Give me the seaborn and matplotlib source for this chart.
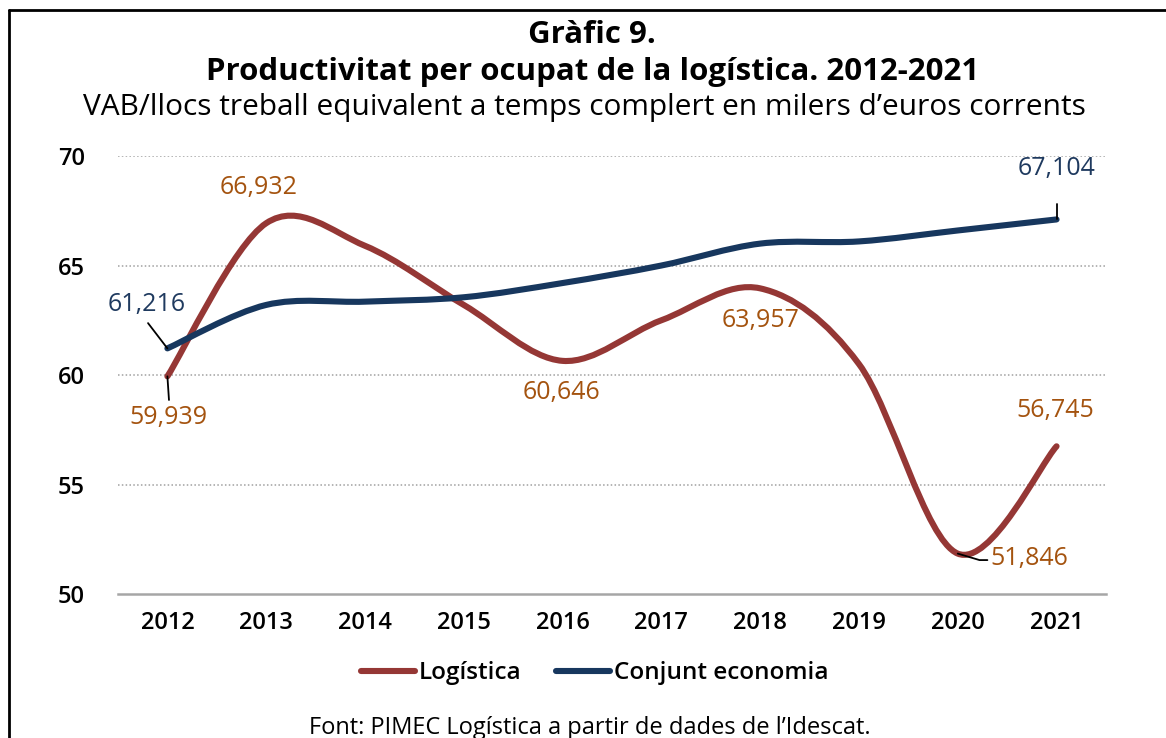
import numpy as np
import pandas as pd
import matplotlib
matplotlib.use("Agg")
import matplotlib.pyplot as plt
import seaborn as sns
from matplotlib.path import Path
from matplotlib.patches import PathPatch
from matplotlib.lines import Line2D

years = ["2012", "2013", "2014", "2015", "2016", "2017", "2018", "2019", "2020", "2021"]
logistica = [59.939, 66.932, 65.9, 63.2, 60.646, 62.5, 63.957, 60.5, 51.846, 56.745]
conjunt = [61.216, 63.2, 63.35, 63.55, 64.2, 65.0, 66.0, 66.1, 66.6, 67.104]
series_names = ["Logística", "Conjunt economia"]
line_colors = ["#953735", "#17375E"]
label_colors = ["#A4530F", "#1F3A5F"]

df = pd.DataFrame({
    "pos": list(range(len(years))) * 2,
    "value": logistica + conjunt,
    "serie": [series_names[0]] * len(years) + [series_names[1]] * len(years),
})

sns.set_style("white")
plt.rcParams["font.family"] = ["Open Sans", "DejaVu Sans"]
plt.rcParams["text.color"] = "black"
plt.rcParams["xtick.color"] = "black"
plt.rcParams["ytick.color"] = "black"

fig = plt.figure(figsize=(11.66, 7.38), dpi=100)
ax = fig.add_axes([0.1012, 0.1951, 0.8473, 0.5935])

sns.lineplot(data=df, x="pos", y="value", hue="serie", palette=line_colors,
             ax=ax, legend=False)


def smooth_path(xs, ys):
    # Excel-like smoothed line: Catmull-Rom segments as cubic Bezier curves
    pts = np.column_stack([xs, ys])
    verts = [pts[0]]
    codes = [Path.MOVETO]
    n = len(pts)
    for i in range(n - 1):
        p0 = pts[max(i - 1, 0)]
        p1 = pts[i]
        p2 = pts[i + 1]
        p3 = pts[min(i + 2, n - 1)]
        c1 = p1 + (p2 - p0) / 6.0
        c2 = p2 - (p3 - p1) / 6.0
        verts += [c1, c2, p2]
        codes += [Path.CURVE4] * 3
    return Path(verts, codes)


# replace the straight seaborn lines with smoothed curves of the same data
for line, color in zip(ax.get_lines(), line_colors):
    xs, ys = line.get_xdata(), line.get_ydata()
    line.set_visible(False)
    ax.add_patch(PathPatch(smooth_path(np.asarray(xs, float), np.asarray(ys, float)),
                           fill=False, edgecolor=color, lw=4.4,
                           capstyle="round", joinstyle="round", zorder=3))

ax.set_xlim(-0.5, len(years) - 0.5)
ax.set_ylim(50, 70)
ax.set_yticks([50, 55, 60, 65, 70])
ax.set_yticklabels(["50", "55", "60", "65", "70"])
ax.set_xticks(range(len(years)))
ax.set_xticklabels(years)
ax.set_xticks(np.arange(-0.5, len(years)), minor=True)
ax.tick_params(axis="x", which="major", length=0, pad=12, labelsize=17,
               labelcolor="black")
ax.tick_params(axis="x", which="minor", length=7, width=1.5, color="#A6A6A6",
               direction="out")
ax.tick_params(axis="y", length=0, pad=24, labelsize=17, labelcolor="black")
for lab in ax.get_xticklabels() + ax.get_yticklabels():
    lab.set_fontweight("semibold")
ax.set_xlabel("")
ax.set_ylabel("")
for s in ["top", "right", "left"]:
    ax.spines[s].set_visible(False)
ax.spines["bottom"].set_color("#A6A6A6")
ax.spines["bottom"].set_linewidth(1.8)
for yv in [55, 60, 65, 70]:
    ax.axhline(yv, color="#A0A0A0", lw=1.1, ls=(0, (1, 1.5)), zorder=1)

# data labels
lab_kw = dict(fontsize=18, ha="center", va="center", zorder=5)
ax.text(0.92, 68.58, "66,932", color=label_colors[0], **lab_kw)
ax.text(0.006, 58.04, "59,939", color=label_colors[0], **lab_kw)
ax.text(3.99, 59.22, "60,646", color=label_colors[0], **lab_kw)
ax.text(6.0, 62.51, "63,957", color=label_colors[0], **lab_kw)
ax.text(8.99, 58.36, "56,745", color=label_colors[0], **lab_kw)
ax.text(8.33, 51.62, "51,846", color=label_colors[0], fontsize=18,
        ha="left", va="center", zorder=5)
ax.text(-0.206, 63.24, "61,216", color=label_colors[1], **lab_kw)
ax.text(9.0, 69.45, "67,104", color=label_colors[1], **lab_kw)

# leader lines
ax.plot([-0.196, 0], [62.37, conjunt[0]], color="black", lw=1.3, zorder=4)
ax.plot([0, 0.016], [logistica[0], 58.86], color="black", lw=1.3, zorder=4)
ax.plot([8.0, 8.22, 8.3], [logistica[8], 51.55, 51.55], color="black", lw=1.3, zorder=4)
ax.plot([9.0, 9.0], [conjunt[9], 67.8], color="black", lw=1.3, zorder=4)

# legend
handles = [Line2D([0], [0], color=c, lw=4.4) for c in line_colors]
leg = fig.legend(handles, series_names, loc="center", bbox_to_anchor=(0.51, 0.088),
                 ncol=2, frameon=False, fontsize=17.5, handlelength=2.25,
                 handletextpad=0.15, columnspacing=1.4, labelcolor="black")
for t in leg.get_texts():
    t.set_fontweight("semibold")

# titles
fig.text(0.508, 0.953, "Gràfic 9.", ha="center", va="center",
         fontsize=22.5, fontweight="bold", color="black")
fig.text(0.508, 0.903, "Productivitat per ocupat de la logística. 2012-2021",
         ha="center", va="center", fontsize=22.5, fontweight="bold", color="black")
fig.text(0.501, 0.855, "VAB/llocs treball equivalent a temps complert en milers d’euros corrents",
         ha="center", va="center", fontsize=21.5, color="black")
fig.text(0.506, 0.014, "Font: PIMEC Logística a partir de dades de l’Idescat.",
         ha="center", va="center", fontsize=17, color="black")

# frame lines (left and top)
fig.add_artist(Line2D([0.0075, 0.0075], [0.0, 0.9865], color="black", lw=2,
                      transform=fig.transFigure))
fig.add_artist(Line2D([0.0075, 1.0], [0.9865, 0.9865], color="black", lw=2,
                      transform=fig.transFigure))

fig.savefig("out.png", dpi=100)
